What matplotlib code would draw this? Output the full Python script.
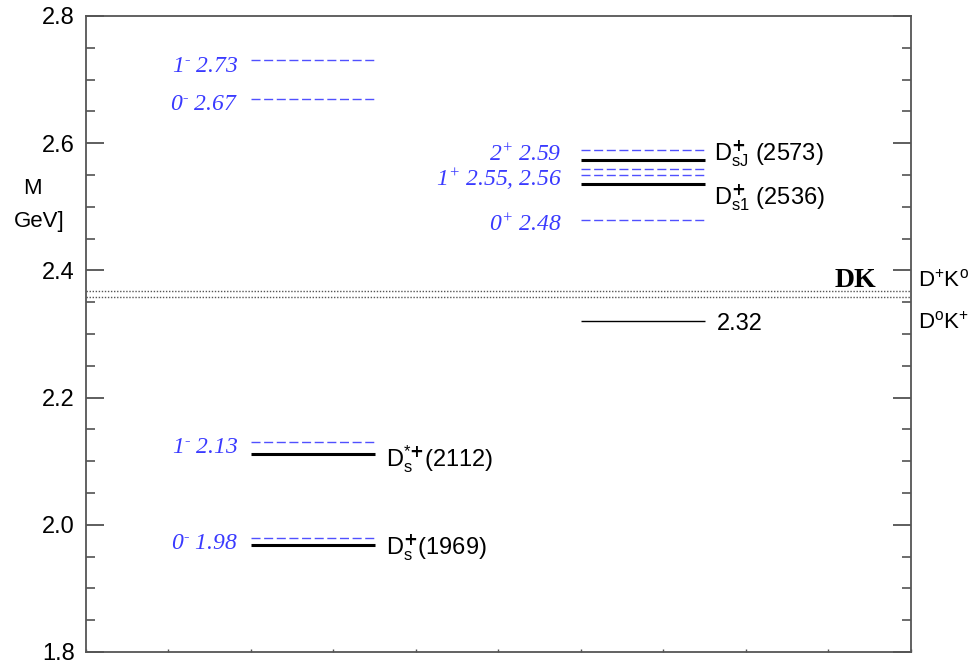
import matplotlib
matplotlib.use("Agg")
import matplotlib.pyplot as plt
from matplotlib.ticker import MultipleLocator, FormatStrFormatter

plt.rcParams['font.family'] = ['Liberation Sans', 'DejaVu Sans']
plt.rcParams['mathtext.default'] = 'regular'

# model predictions (blue dashed), GeV
model_left = [2.73, 2.67, 2.13, 1.98]
model_left_labels = ["$1^{\u2010}$ 2.73", "$0^{\u2010}$ 2.67", "$1^{\u2010}$ 2.13", "$0^{\u2010}$ 1.98"]
model_right = [2.59, 2.56, 2.55, 2.48]
model_right_labels = {2.59: r"$2^{+}$ 2.59", 2.55: r"$1^{+}$ 2.55, 2.56", 2.48: r"$0^{+}$ 2.48"}

# measured states (black solid), GeV
exp_left = [2.112, 1.969]
exp_left_labels = [r"D$_s^{*\mathbf{+}}$(2112)", r"D$_s^{\mathbf{+}}$(1969)"]
exp_right = [2.573, 2.536]
exp_right_labels = [r"D$_{sJ}^{\mathbf{+}}$ (2573)", r"D$_{s1}^{\mathbf{+}}$ (2536)"]
new_state = 2.32

# DK thresholds
thr_dk = [2.367, 2.3585]

blue_txt = '#3a3aff'
blue_line = '#5050ff'
dash = (0, (6.5, 2.6))

fig = plt.figure(figsize=(9.76, 6.63), dpi=100)
ax = fig.add_axes([0.0881, 0.0166, 0.8453, 0.9593])

# column extents
L0, L1 = 2.0, 3.5
R0, R1 = 6.0, 7.5

for y, lab in zip(model_left, model_left_labels):
    ax.hlines(y, L0, L1, colors=blue_line, lw=1.0, linestyles=dash)
    ax.annotate(lab, (L0, y), xytext=(-9, -8), textcoords='offset points',
                ha='right', va='baseline', color=blue_txt, fontsize=17,
                family='Liberation Serif', style='italic')

for y in model_right:
    ax.hlines(y, R0, R1, colors=blue_line, lw=1.0, linestyles=dash)
for y, lab in model_right_labels.items():
    ax.annotate(lab, (R0, y), xytext=(-14, -8), textcoords='offset points',
                ha='right', va='baseline', color=blue_txt, fontsize=17,
                family='Liberation Serif', style='italic')

offs_left = [-9, -7]
for y, lab, dy in zip(exp_left, exp_left_labels, offs_left):
    ax.hlines(y, L0, L1, colors='black', lw=2.2)
    ax.annotate(lab, (L1, y), xytext=(8, dy), textcoords='offset points',
                ha='left', va='baseline', fontsize=17)

offs_right = [0, -14.5]
for y, lab, dy in zip(exp_right, exp_right_labels, offs_right):
    ax.hlines(y, R0, R1, colors='black', lw=2.2)
    ax.annotate(lab, (R1, y), xytext=(7, dy), textcoords='offset points',
                ha='left', va='baseline', fontsize=17)

ax.hlines(new_state, R0, R1, colors='black', lw=1.0)
ax.annotate("%.2f" % new_state, (R1, new_state), xytext=(9, -6.5),
            textcoords='offset points', ha='left', va='baseline', fontsize=17)

for y in thr_dk:
    ax.axhline(y, color='#555555', lw=1.0, linestyle=(0, (1, 1.2)))

ax.annotate("DK", (9.58, thr_dk[0]), xytext=(0, 3.5), textcoords='offset points',
            ha='right', va='baseline', fontsize=20, fontweight='bold',
            family='Liberation Serif')
ax.annotate(r"D$^{+}$K$^{o}$", (10.0, thr_dk[0]), xytext=(5, 3.5),
            textcoords='offset points', ha='left', va='baseline', fontsize=16,
            annotation_clip=False)
ax.annotate(r"D$^{o}$K$^{+}$", (10.0, thr_dk[1]), xytext=(5, -23),
            textcoords='offset points', ha='left', va='baseline', fontsize=16,
            annotation_clip=False)

ax.set_xlim(0, 10)
ax.set_ylim(1.8, 2.8)
ax.yaxis.set_major_locator(MultipleLocator(0.2))
ax.yaxis.set_minor_locator(MultipleLocator(0.05))
ax.yaxis.set_major_formatter(FormatStrFormatter('%.1f'))
ax.xaxis.set_major_locator(MultipleLocator(1))
ax.tick_params(axis='x', which='both', direction='in', length=2, width=1,
               labelbottom=False, color='#555555')
ax.tick_params(axis='y', which='major', direction='in', length=13, width=1.1,
               right=True, pad=8, labelsize=17, color='#333333')
ax.tick_params(axis='y', which='minor', direction='in', length=6.5, width=1.1,
               right=True, color='#444444')
for s in ax.spines.values():
    s.set_color('#555555')
    s.set_linewidth(1.3)

fig.text(32 / 976, 1 - 189 / 663, "M", ha='center', va='center', fontsize=16)
fig.text(39 / 976, 1 - 222 / 663, "GeV]", ha='center', va='center', fontsize=16)

fig.savefig("out.png", dpi=100)
